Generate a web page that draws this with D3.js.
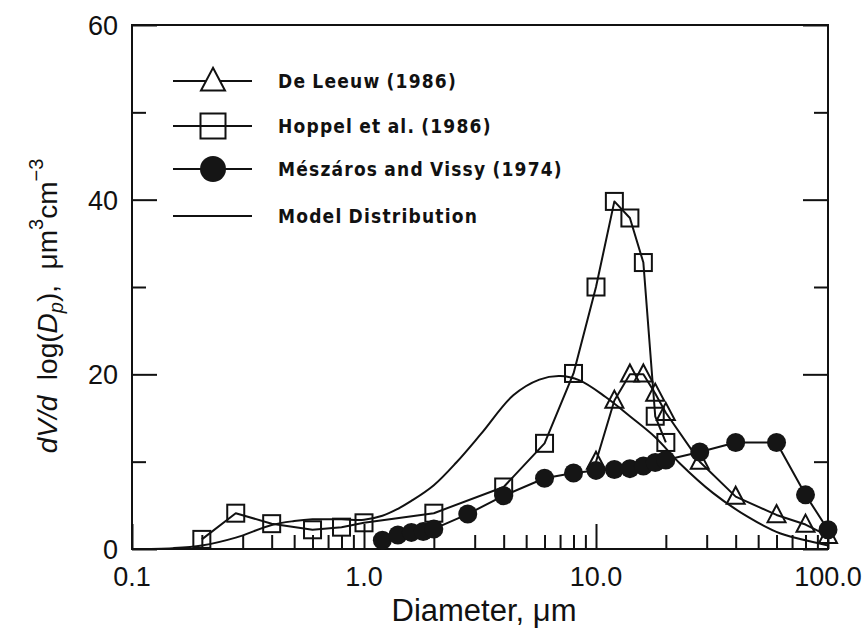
<!DOCTYPE html>
<html>
<head>
<meta charset="utf-8">
<script src="https://cdn.jsdelivr.net/npm/d3@7/dist/d3.min.js"></script>
<style>
  html, body { margin: 0; padding: 0; background: #fff; }
  svg { display: block; }
  .tick-label { font-family: "Liberation Sans", Arial, sans-serif; font-size: 27px; fill: #111; }
  .legend-text { font-family: "DejaVu Sans Condensed", "DejaVu Sans", sans-serif; font-stretch: condensed; font-weight: bold; font-size: 19px; letter-spacing: 1.2px; word-spacing: -1px; fill: #111; }
</style>
</head>
<body>
<svg id="chart" width="865" height="632"></svg>
<script>
// Volume size distributions of marine aerosol, dV/dlog(Dp) vs diameter (µm)
const deLeeuwD = [10, 12, 14, 16, 18, 20, 28, 40, 60, 80, 100];
const deLeeuwV = [10, 17, 20, 20, 17.8, 15.6, 10, 6, 3.9, 2.8, 1.5];

const hoppelD = [0.2, 0.28, 0.4, 0.6, 0.8, 1.0, 2.0, 4.0, 6.0, 8.0, 10, 12, 14, 16, 18, 20];
const hoppelV = [1.1, 4.1, 2.9, 2.2, 2.5, 3.0, 4.1, 7.1, 12.1, 20.1, 30, 39.8, 37.9, 32.8, 15.2, 12.2];

const meszarosD = [1.2, 1.4, 1.6, 1.8, 2.0, 2.8, 4.0, 6.0, 8.0, 10, 12, 14, 16, 18, 20, 28, 40, 60, 80, 100];
const meszarosV = [1.0, 1.6, 1.9, 2.0, 2.3, 4.0, 6.1, 8.1, 8.7, 9.0, 9.1, 9.2, 9.5, 9.9, 10.2, 11.1, 12.2, 12.2, 6.2, 2.2];

const modelD = [0.1, 0.15, 0.2, 0.28, 0.4, 0.5, 0.6, 0.8, 1.0, 1.2, 1.4, 1.6, 2.0, 2.5, 3.2, 4.4, 5.7, 7.0, 8.5, 11, 14, 18, 23, 32, 45, 62, 86, 100];
const modelV = [0, 0.1, 0.4, 1.3, 2.75, 3.2, 3.4, 3.4, 3.35, 3.8, 4.6, 5.5, 7.3, 9.9, 13.2, 17.6, 19.4, 19.8, 19.3, 17.4, 15.2, 12.8, 9.8, 6.4, 3.7, 1.8, 0.8, 0.4];

const xMajorTicks = [0.1, 1, 10, 100];
const xTickLabels = ["0.1", "1.0", "10.0", "100.0"];
const yMajorTicks = [0, 20, 40, 60];
const yMinorTicks = [10, 30, 50];

const legendLabels = ["De Leeuw (1986)", "Hoppel et al. (1986)", "Mészáros and Vissy (1974)", "Model Distribution"];

const ink = "#111";
const svg = d3.select("#chart");
svg.append("rect").attr("width", 865).attr("height", 632).attr("fill", "#fff");

const plot = { left: 132, right: 828, top: 25, bottom: 549 };
const x = d3.scaleLog().domain([0.1, 100]).range([plot.left, plot.right]);
const y = d3.scaleLinear().domain([0, 60]).range([plot.bottom, plot.top]);

// minor x ticks: 2..9 in every decade
const xMinorTicks = [];
xMajorTicks.slice(0, -1).forEach(d => { for (let k = 2; k <= 9; k++) xMinorTicks.push(+(d * k).toPrecision(3)); });

function styleAxis(g) {
  g.select(".domain").remove();
  g.selectAll(".tick line").attr("stroke", ink).attr("stroke-width", 2);
  g.selectAll(".tick text").remove();
}

// bottom axis ticks (pointing into the plot)
svg.append("g").attr("transform", `translate(0,${plot.bottom})`)
  .call(d3.axisBottom(x).tickValues(xMajorTicks).tickSize(-25)).call(styleAxis);
svg.append("g").attr("transform", `translate(0,${plot.bottom})`)
  .call(d3.axisBottom(x).tickValues(xMinorTicks).tickSize(-14)).call(styleAxis);

// left and right axis ticks
svg.append("g").attr("transform", `translate(${plot.left},0)`)
  .call(d3.axisLeft(y).tickValues(yMajorTicks).tickSize(-25)).call(styleAxis);
svg.append("g").attr("transform", `translate(${plot.left},0)`)
  .call(d3.axisLeft(y).tickValues(yMinorTicks).tickSize(-14)).call(styleAxis);
svg.append("g").attr("transform", `translate(${plot.right},0)`)
  .call(d3.axisRight(y).tickValues(yMajorTicks).tickSize(-25)).call(styleAxis);
svg.append("g").attr("transform", `translate(${plot.right},0)`)
  .call(d3.axisRight(y).tickValues(yMinorTicks).tickSize(-14)).call(styleAxis);

// frame
svg.append("rect")
  .attr("x", plot.left).attr("y", plot.top)
  .attr("width", plot.right - plot.left).attr("height", plot.bottom - plot.top)
  .attr("fill", "none").attr("stroke", ink).attr("stroke-width", 2);

// tick labels
svg.selectAll(".xlab").data(xMajorTicks).join("text")
  .attr("class", "tick-label")
  .attr("x", d => x(d)).attr("y", plot.bottom + 37)
  .attr("text-anchor", "middle")
  .text((d, i) => xTickLabels[i]);

svg.selectAll(".ylab").data(yMajorTicks).join("text")
  .attr("class", "tick-label")
  .attr("x", plot.left - 14).attr("y", d => y(d) + 10)
  .attr("text-anchor", "end")
  .text(d => d);

// axis titles
svg.append("text")
  .attr("x", 484).attr("y", 621)
  .attr("text-anchor", "middle")
  .attr("font-family", "Liberation Sans, Arial, sans-serif")
  .attr("font-size", 31).attr("fill", ink)
  .text("Diameter, \u03bcm");

const yt = svg.append("text")
  .attr("transform", "translate(57,306) rotate(-90)")
  .attr("text-anchor", "middle")
  .attr("font-family", "Liberation Sans, Arial, sans-serif")
  .attr("font-size", 28).attr("fill", ink);
yt.append("tspan").attr("font-style", "italic").text("dV/d");
yt.append("tspan").text("\u00a0 log(");
yt.append("tspan").attr("font-style", "italic").text("D");
yt.append("tspan").attr("font-style", "italic").attr("font-size", 20).attr("dy", 6).text("p");
yt.append("tspan").attr("dy", -6).text("),\u00a0 \u03bcm");
yt.append("tspan").attr("font-size", 20).attr("dy", -14).text("3");
yt.append("tspan").attr("dy", 14).text("cm");
yt.append("tspan").attr("font-size", 20).attr("dy", -14).text("\u22123");

// series
const pts = (D, V) => D.map((d, i) => [d, V[i]]);
const straight = d3.line().x(d => x(d[0])).y(d => y(d[1]));
const smooth = d3.line().x(d => x(d[0])).y(d => y(d[1])).curve(d3.curveCatmullRom.alpha(0.5));

const lineStyle = sel => sel.attr("fill", "none").attr("stroke", ink).attr("stroke-width", 2).attr("stroke-linejoin", "round");

svg.append("path").datum(pts(modelD, modelV)).attr("d", smooth).call(lineStyle);
svg.append("path").datum(pts(deLeeuwD, deLeeuwV)).attr("d", straight).call(lineStyle);
svg.append("path").datum(pts(hoppelD, hoppelV)).attr("d", straight).call(lineStyle);
svg.append("path").datum(pts(meszarosD, meszarosV)).attr("d", straight).call(lineStyle);

function triPath(size) { return `M0,${-size * 0.55}L${size * 0.5},${size * 0.4}L${-size * 0.5},${size * 0.4}Z`; }

svg.append("g").selectAll("path").data(pts(deLeeuwD, deLeeuwV)).join("path")
  .attr("transform", d => `translate(${x(d[0])},${y(d[1])})`)
  .attr("d", triPath(18))
  .attr("fill", "none").attr("stroke", ink).attr("stroke-width", 2);

svg.append("g").selectAll("rect").data(pts(hoppelD, hoppelV)).join("rect")
  .attr("x", d => x(d[0]) - 8.5).attr("y", d => y(d[1]) - 8.5)
  .attr("width", 17).attr("height", 17)
  .attr("fill", "none").attr("stroke", ink).attr("stroke-width", 2);

svg.append("g").selectAll("circle").data(pts(meszarosD, meszarosV)).join("circle")
  .attr("cx", d => x(d[0])).attr("cy", d => y(d[1])).attr("r", 9.5)
  .attr("fill", "#151515");

// legend
const legRows = [81, 126, 169, 216];
const lg = svg.append("g");
legRows.forEach((cy, i) => {
  lg.append("line").attr("x1", 173).attr("x2", 252).attr("y1", cy).attr("y2", cy)
    .attr("stroke", ink).attr("stroke-width", 2);
  if (i === 0) lg.append("path").attr("transform", `translate(213,${cy})`).attr("d", triPath(24))
    .attr("fill", "#fff").attr("stroke", ink).attr("stroke-width", 2);
  if (i === 1) lg.append("rect").attr("x", 213 - 12.5).attr("y", cy - 12.5).attr("width", 25).attr("height", 25)
    .attr("fill", "none").attr("stroke", ink).attr("stroke-width", 2);
  if (i === 2) lg.append("circle").attr("cx", 213).attr("cy", cy).attr("r", 13).attr("fill", "#151515");
  lg.append("text").attr("class", "legend-text").attr("x", 278).attr("y", cy + 7).text(legendLabels[i]);
});
</script>
</body>
</html>
